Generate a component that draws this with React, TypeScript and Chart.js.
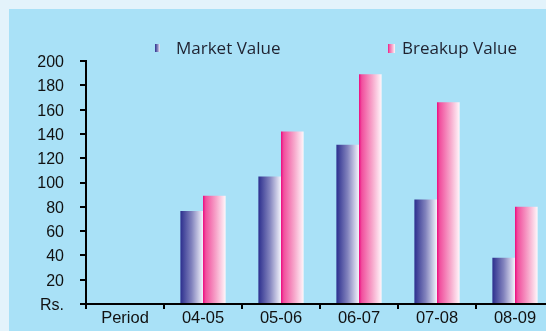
import React, { useEffect, useRef } from 'react';
import { Chart, registerables } from 'chart.js';

Chart.register(...registerables);

// Periods on the x axis; the first slot is the axis caption and holds no bars.
const periods = ['Period', '04-05', '05-06', '06-07', '07-08', '08-09'];
const marketValue: (number | null)[] = [null, 76.5, 105, 131, 86, 38];
const breakupValue: (number | null)[] = [null, 89, 142, 189, 166, 80];
const seriesNames = ['Market Value', 'Breakup Value'];
const yMax = 200;
const yStep = 20;
const zeroLabel = 'Rs.';

// Horizontal gradient stops for each series (left edge -> right edge of a bar)
const marketStops: [number, string][] = [
  [0, '#2c2f8e'],
  [0.5, '#8283bd'],
  [1, '#f3f3fb'],
];
const breakupStops: [number, string][] = [
  [0, '#ec0a80'],
  [0.12, '#f14f9e'],
  [0.6, '#f7a9cc'],
  [1, '#fff6fa'],
];
const seriesStops = [marketStops, breakupStops];

const CANVAS_W = 570;
const CANVAS_H = 331;

function makeGradient(ctx: CanvasRenderingContext2D, x0: number, x1: number, stops: [number, string][]) {
  const g = ctx.createLinearGradient(x0, 0, x1, 0);
  stops.forEach(([o, c]) => g.addColorStop(o, c));
  return g;
}

// Paints each bar with a left-to-right gradient sized to the bar itself.
const gradientBars = {
  id: 'gradientBars',
  beforeDatasetsDraw(chart: any) {
    const ctx = chart.ctx as CanvasRenderingContext2D;
    chart.data.datasets.forEach((_ds: any, i: number) => {
      const meta = chart.getDatasetMeta(i);
      meta.data.forEach((el: any) => {
        const { x, width } = el.getProps(['x', 'width'], true);
        if (!isFinite(x) || !isFinite(width)) return;
        const g = makeGradient(ctx, x - width / 2, x + width / 2, seriesStops[i]);
        el.options = { ...el.options, backgroundColor: g };
      });
    });
  },
};

// Legend row above the plot: small gradient swatch followed by the series name.
const legendRow = {
  id: 'legendRow',
  afterDraw(chart: any) {
    const ctx = chart.ctx as CanvasRenderingContext2D;
    const items = [
      { box: [155, 44, 5, 8], textX: 176 },
      { box: [388, 44, 7, 9], textX: 402 },
    ];
    ctx.save();
    chart.data.datasets.forEach((ds: any, i: number) => {
      const it = items[i];
      const [bx, by, bw, bh] = it.box;
      ctx.fillStyle = makeGradient(ctx, bx, bx + bw, seriesStops[i]);
      ctx.fillRect(bx, by, bw, bh);
      ctx.fillStyle = '#1f2230';
      ctx.font = '17px "Open Sans", "Noto Sans", sans-serif';
      ctx.textAlign = 'left';
      ctx.textBaseline = 'alphabetic';
      ctx.fillText(ds.label, it.textX, 54);
    });
    ctx.restore();
  },
};

export default function App() {
  const canvasRef = useRef<HTMLCanvasElement | null>(null);

  useEffect(() => {
    const canvas = canvasRef.current;
    if (!canvas) return;
    const chart = new Chart(canvas, {
      type: 'bar',
      data: {
        labels: periods,
        datasets: [
          { label: seriesNames[0], data: marketValue, backgroundColor: '#2c2f8e', borderWidth: 0 },
          { label: seriesNames[1], data: breakupValue, backgroundColor: '#ec0a80', borderWidth: 0 },
        ],
      },
      options: {
        responsive: false,
        animation: false,
        devicePixelRatio: 1,
        layout: { padding: { top: 61, right: 16, left: 0, bottom: 0 } },
        datasets: {
          bar: { categoryPercentage: 0.58, barPercentage: 1 },
        },
        plugins: {
          legend: { display: false },
          tooltip: { enabled: false },
          title: { display: false },
        },
        scales: {
          x: {
            offset: true,
            grid: {
              offset: true,
              drawOnChartArea: false,
              drawTicks: true,
              tickLength: 5,
              color: '#000',
              lineWidth: 2,
            },
            border: { display: true, color: '#000', width: 2 },
            ticks: {
              color: '#111',
              padding: 0,
              maxRotation: 0,
              autoSkip: false,
              font: { family: "'Liberation Sans', Arial, sans-serif", size: 16.5 },
            },
            afterFit(scale: any) {
              scale.height = 27;
            },
          },
          y: {
            min: 0,
            max: yMax,
            grid: {
              drawOnChartArea: false,
              drawTicks: true,
              tickLength: 6,
              color: '#000',
              lineWidth: 2,
            },
            border: { display: true, color: '#000', width: 2 },
            ticks: {
              stepSize: yStep,
              color: '#111',
              padding: 16,
              labelOffset: 1.5,
              font: { family: "'Liberation Sans', Arial, sans-serif", size: 16 },
              callback: (v: any) => (Number(v) === 0 ? zeroLabel : String(v)),
            },
            afterFit(scale: any) {
              scale.width = 86;
            },
          },
        },
      },
      plugins: [gradientBars, legendRow],
    });
    return () => chart.destroy();
  }, []);

  return (
    <div
      style={{
        position: 'fixed',
        left: 0,
        top: 0,
        width: 546,
        height: 331,
        overflow: 'hidden',
        background: '#e3f3fb',
      }}
    >
      <div
        style={{
          position: 'absolute',
          left: 9,
          top: 9,
          right: 0,
          bottom: 0,
          background: '#a9e1f7',
        }}
      />
      <canvas
        ref={canvasRef}
        width={CANVAS_W}
        height={CANVAS_H}
        style={{ position: 'absolute', left: 0, top: 0, width: CANVAS_W, height: CANVAS_H }}
      />
    </div>
  );
}
